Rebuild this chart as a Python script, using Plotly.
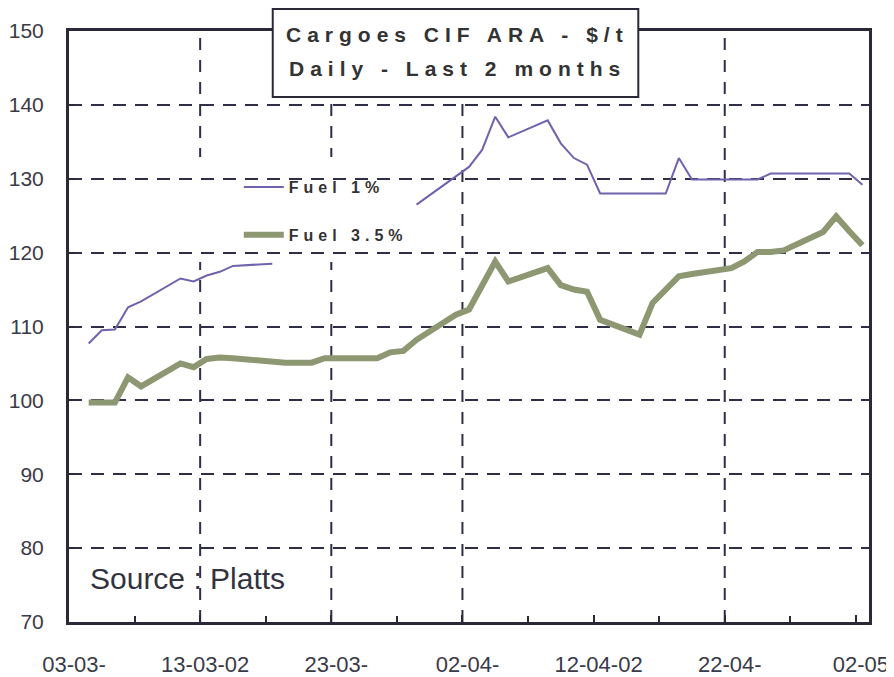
import plotly.graph_objects as go
import pandas as pd

# ---- data ----
dates = [
    "2002-03-04", "2002-03-05", "2002-03-06", "2002-03-07", "2002-03-08",
    "2002-03-11", "2002-03-12", "2002-03-13", "2002-03-14", "2002-03-15",
    "2002-03-18", "2002-03-19", "2002-03-20", "2002-03-21", "2002-03-22",
    "2002-03-25", "2002-03-26", "2002-03-27", "2002-03-28", "2002-03-29",
    "2002-04-01", "2002-04-02", "2002-04-03", "2002-04-04", "2002-04-05",
    "2002-04-08", "2002-04-09", "2002-04-10", "2002-04-11", "2002-04-12",
    "2002-04-15", "2002-04-16", "2002-04-17", "2002-04-18", "2002-04-19",
    "2002-04-22", "2002-04-23", "2002-04-24", "2002-04-25", "2002-04-26",
    "2002-04-29", "2002-04-30", "2002-05-01", "2002-05-02",
]

fuel_1 = [
    107.7, 109.5, 109.6, 112.6, 113.4,
    116.5, 116.1, 116.9, 117.4, 118.2,
    118.5, None, None, None, None,
    None, None, None, None, 126.5,
    130.3, 131.6, 133.9, 138.4, 135.6,
    137.9, 134.8, 132.8, 131.9, 128.0,
    128.0, 128.0, 128.0, 132.8, 129.9,
    129.9, 129.9, 129.9, 130.7, 130.7,
    130.7, 130.7, 130.7, 129.2,
]

fuel_35 = [
    99.7, 99.7, 99.7, 103.1, 101.9,
    105.0, 104.5, 105.6, 105.8, 105.7,
    105.1, 105.1, 105.1, 105.1, 105.7,
    105.7, 105.7, 106.5, 106.7, 108.2,
    111.6, 112.3, 115.5, 118.8, 116.1,
    117.9, 115.6, 115.0, 114.7, 110.9,
    108.9, 113.2, 115.0, 116.8, 117.1,
    117.9, 118.8, 120.1, 120.1, 120.3,
    122.8, 124.9, 122.9, 121.0,
]

tick_dates = ["2002-03-03", "2002-03-13", "2002-03-23", "2002-04-02",
              "2002-04-12", "2002-04-22", "2002-05-02"]
tick_labels = ["03-03-", "13-03-02", "23-03-", "02-04-",
               "12-04-02", "22-04-", "02-05"]
grid_dates = ["2002-03-13", "2002-03-23", "2002-04-02", "2002-04-22"]
y_ticks = [70, 80, 90, 100, 110, 120, 130, 140, 150]

series_names = ["Fuel 1%", "Fuel 3.5%"]

# ---- styling ----
INK = "#2d2838"
GRID = "#2e2e48"
FONT = "Liberation Sans, Arial, sans-serif"

# each daily value sits in the middle of its day slot (Excel date axis)
x = pd.to_datetime(dates) + pd.Timedelta(hours=12)

fig = go.Figure()
fig.add_trace(go.Scatter(
    x=x, y=fuel_1, mode="lines",
    name="<span style='letter-spacing:5px'>" + series_names[0] + "</span>",
    line=dict(color="#6f63ad", width=2),
    legendgroup="a", connectgaps=False,
))
fig.add_trace(go.Scatter(
    x=x, y=fuel_35, mode="lines",
    name="<span style='letter-spacing:5px'>" + series_names[1] + "</span>",
    line=dict(color="#8d9772", width=6),
    legendgroup="b",
))

# plot area in screen pixels: x 69..870, y 31..622 (page body has an 8px margin)
def px_x(p):  # helper for decorative paper positions
    return (p - 69) / 801.0

def px_y(p):
    return (622 - p) / 591.0

shapes = []
for d in grid_dates:
    shapes.append(dict(type="line", xref="x", yref="paper", x0=d, x1=d, y0=0, y1=1,
                       line=dict(color=GRID, width=2, dash="12px,10px"), layer="between"))
# legend background (white, covers gridlines)
shapes.append(dict(type="rect", xref="paper", yref="paper",
                   x0=px_x(195), x1=px_x(430), y0=px_y(262), y1=px_y(157),
                   fillcolor="white", line=dict(width=0), layer="between"))
# title box
shapes.append(dict(type="rect", xref="paper", yref="paper",
                   x0=px_x(273), x1=px_x(639), y0=px_y(97), y1=px_y(9),
                   fillcolor="white", line=dict(color=INK, width=2), layer="above"))

annotations = [
    dict(text="<span style='letter-spacing:6px'><b>Cargoes CIF ARA - $/t</b></span>",
         xref="paper", yref="paper", x=px_x(458), y=px_y(34), showarrow=False,
         xanchor="center", yanchor="middle",
         font=dict(family=FONT, size=21, color="#333333")),
    dict(text="<span style='letter-spacing:6px'><b>Daily - Last 2 months</b></span>",
         xref="paper", yref="paper", x=px_x(458), y=px_y(68), showarrow=False,
         xanchor="center", yanchor="middle",
         font=dict(family=FONT, size=21, color="#333333")),
    dict(text="Source : Platts",
         xref="paper", yref="paper", x=px_x(88), y=px_y(578), showarrow=False,
         xanchor="left", yanchor="middle",
         font=dict(family=FONT, size=30, color="#333340")),
]

fig.update_layout(
    width=886, height=669,
    margin=dict(l=61, r=25, t=23, b=55, autoexpand=False),
    paper_bgcolor="white", plot_bgcolor="white",
    font=dict(family=FONT, color="#333340"),
    showlegend=True,
    legend=dict(x=px_x(239), y=px_y(170), xanchor="left", yanchor="top",
                bgcolor="rgba(0,0,0,0)", borderwidth=0,
                font=dict(family=FONT, size=16, color="#333333", weight=700),
                tracegroupgap=24, itemwidth=40),
    shapes=shapes,
    annotations=annotations,
    xaxis=dict(
        type="date", range=["2002-03-03", "2002-05-03"], automargin=False,
        tickmode="array", tickvals=tick_dates, ticktext=tick_labels,
        ticks="inside", ticklen=7, tickwidth=2, tickcolor=INK,
        minor=dict(ticks="inside", ticklen=6, tickwidth=1.5, tickcolor=INK,
                   dtick=5 * 86400000, tick0="2002-03-03", showgrid=False),
        showline=True, linewidth=3, linecolor=INK, mirror=True,
        showgrid=False, zeroline=False,
        tickfont=dict(family=FONT, size=22, color="#3a3a48"),
        ticklabelshift=5, ticklabelstandoff=21,
    ),
    yaxis=dict(
        range=[70, 150], tickmode="array", tickvals=y_ticks, automargin=False,
        ticks="inside", ticklen=5, tickwidth=2, tickcolor=INK,
        showline=True, linewidth=3, linecolor=INK, mirror=True,
        showgrid=True, gridcolor=GRID, gridwidth=2, griddash="13px,9px",
        zeroline=False,
        tickfont=dict(family=FONT, size=21, color="#3a3a48"),
        ticklabelstandoff=18,
    ),
)

fig.write_html("out.html")
